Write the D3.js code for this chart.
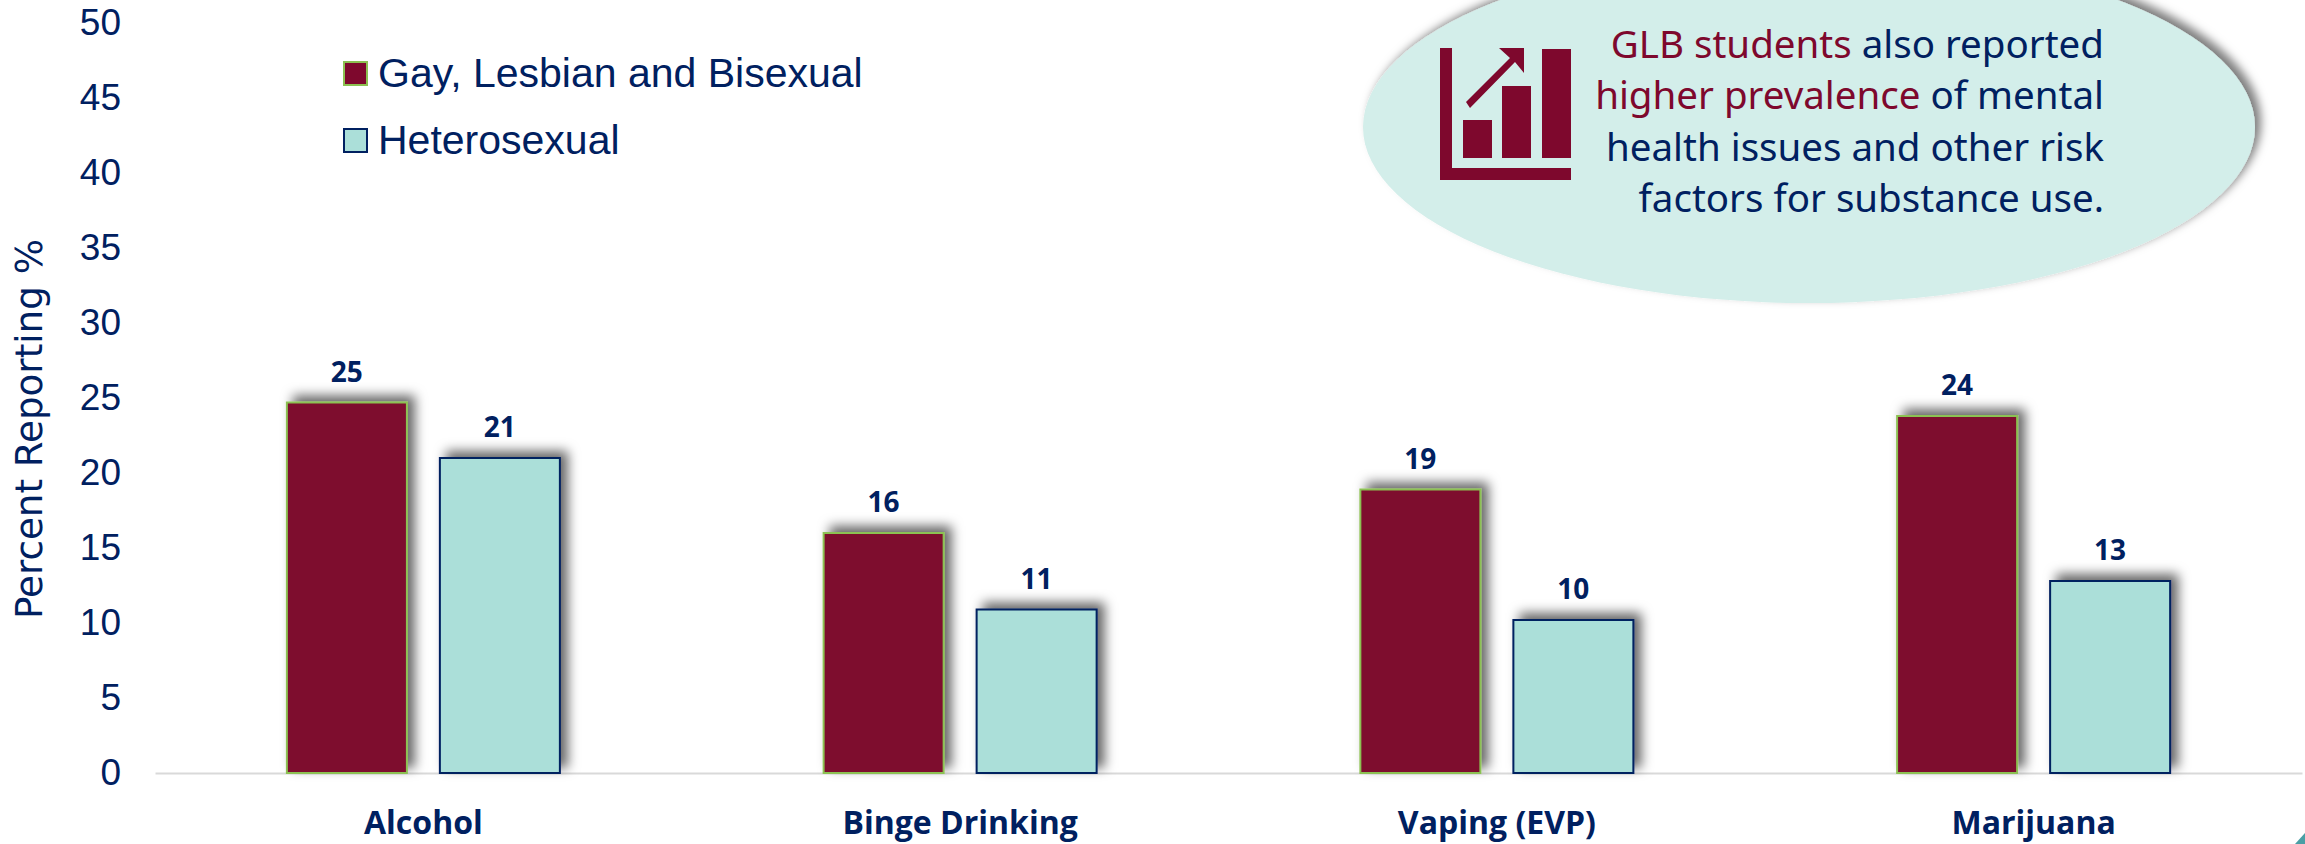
<!DOCTYPE html>
<html><head><meta charset="utf-8">
<style>html,body{margin:0;padding:0;background:#fff;overflow:hidden}svg{display:block}</style>
<script src="https://cdn.jsdelivr.net/npm/d3@7/dist/d3.min.js"></script>
</head><body><svg id="c" width="2305" height="844"></svg>
<script>
const categories = ["Alcohol","Binge Drinking","Vaping (EVP)","Marijuana"];
const glbValues = [24.7,16.0,18.9,23.8];
const hetValues = [21.0,10.9,10.2,12.8];
const seriesNames = ["Gay, Lesbian and Bisexual","Heterosexual"];
const yTicks = [0,5,10,15,20,25,30,35,40,45,50];
const calloutLines = [
 [["GLB students",1],[" also reported",0]],
 [["higher prevalence",1],[" of mental",0]],
 [["health issues and other risk",0]],
 [["factors for substance use.",0]]
];
const navy="#002060", maroon="#7E082D", teal="#ABDFD9", green="#8CC152";
const svg=d3.select("#c");
const defs=svg.append("defs");
const f=defs.append("filter").attr("id","sh").attr("x","-20%").attr("y","-15%").attr("width","150%").attr("height","125%");
f.append("feDropShadow").attr("dx",7).attr("dy",-6).attr("stdDeviation",6).attr("flood-color","#000").attr("flood-opacity",.6);
const f2=defs.append("filter").attr("id","sh2").attr("x","-5%").attr("y","-5%").attr("width","110%").attr("height","110%");
f2.append("feDropShadow").attr("dx",6).attr("dy",-5).attr("stdDeviation",5).attr("flood-color","#000").attr("flood-opacity",.5);

const x=d3.scaleBand().domain(categories).range([155,2302]);
const y=d3.scaleLinear().domain([0,50]).range([773,23]);
const barW=120, step=153;

// axes
const yAxis=svg.append("g").attr("transform","translate(124,0)").call(d3.axisLeft(y).tickValues(yTicks).tickSize(0).tickPadding(3));
yAxis.select(".domain").remove();
yAxis.selectAll("text").attr("font-family","'Liberation Sans',Arial,sans-serif").attr("font-size",37).attr("fill",navy);
const xAxis=svg.append("g").attr("transform","translate(0,773)").call(d3.axisBottom(x).tickSize(0).tickPadding(38));
xAxis.select(".domain").attr("stroke","#d9d9d9").attr("stroke-width",2);
xAxis.selectAll("text").attr("font-family","'Open Sans',sans-serif").attr("font-weight",700).attr("font-size",32).attr("fill",navy);
svg.append("text").attr("transform","translate(42,429) rotate(-90)").attr("text-anchor","middle")
 .attr("font-family","'DejaVu Sans',sans-serif").attr("font-size",38).attr("fill",navy).attr("textLength",380).attr("lengthAdjust","spacingAndGlyphs").text("Percent Reporting %");

// bars
const series=[{v:glbValues,fill:maroon,stroke:green,off:-step/2},{v:hetValues,fill:teal,stroke:navy,off:step/2}];
series.forEach(s=>{
 const g=svg.append("g");
 g.selectAll("rect").data(categories).join("rect")
  .attr("x",d=>x(d)+x.bandwidth()/2+s.off-barW/2)
  .attr("y",(d,i)=>y(s.v[i]))
  .attr("width",barW)
  .attr("height",(d,i)=>y(0)-y(s.v[i]))
  .attr("fill",s.fill).attr("stroke",s.stroke).attr("stroke-width",2)
  .attr("filter","url(#sh)");
 g.selectAll("text").data(categories).join("text")
  .attr("x",d=>x(d)+x.bandwidth()/2+s.off)
  .attr("y",(d,i)=>y(s.v[i])-21)
  .attr("text-anchor","middle")
  .attr("font-family","'Open Sans',sans-serif").attr("font-weight",700).attr("font-size",28).attr("fill",navy)
  .text((d,i)=>d3.format(".0f")(s.v[i]));
});

// legend
[[62,maroon,green,87],[129,teal,navy,154]].forEach((r,i)=>{
 svg.append("rect").attr("x",344).attr("y",r[0]).attr("width",23).attr("height",23).attr("fill",r[1]).attr("stroke",r[2]).attr("stroke-width",2);
 svg.append("text").attr("x",378).attr("y",r[3]).attr("font-family","'Liberation Sans',Arial,sans-serif").attr("font-size",41).attr("fill",navy).text(seriesNames[i]);
});

// callout
svg.append("ellipse").attr("cx",1809).attr("cy",127).attr("rx",446).attr("ry",176).attr("fill","#D3EEEA").attr("filter","url(#sh2)");
const ic=svg.append("g").attr("fill",maroon);
ic.append("path").attr("d","M1440 48H1452V168H1571V180H1440Z");
ic.append("rect").attr("x",1463).attr("y",120).attr("width",29).attr("height",38);
ic.append("rect").attr("x",1502).attr("y",86).attr("width",29).attr("height",72);
ic.append("rect").attr("x",1542).attr("y",49).attr("width",29).attr("height",109);
ic.append("path").attr("d","M1466 102L1510 58L1499 48H1524V73L1515 62L1470 108Z");
const baselines=[58,109,161,212];
calloutLines.forEach((l,i)=>{
 const t=svg.append("text").attr("x",2104).attr("y",baselines[i]).attr("text-anchor","end")
  .attr("font-family","'Noto Sans',sans-serif").attr("font-size",38.5).attr("fill",navy).attr("xml:space","preserve");
 l.forEach(p=>t.append("tspan").attr("fill",p[1]?maroon:navy).text(p[0]));
});
// corner triangle
svg.append("path").attr("d","M2295 844L2305 833V844Z").attr("fill","#4A9FA5");
</script></body></html>
